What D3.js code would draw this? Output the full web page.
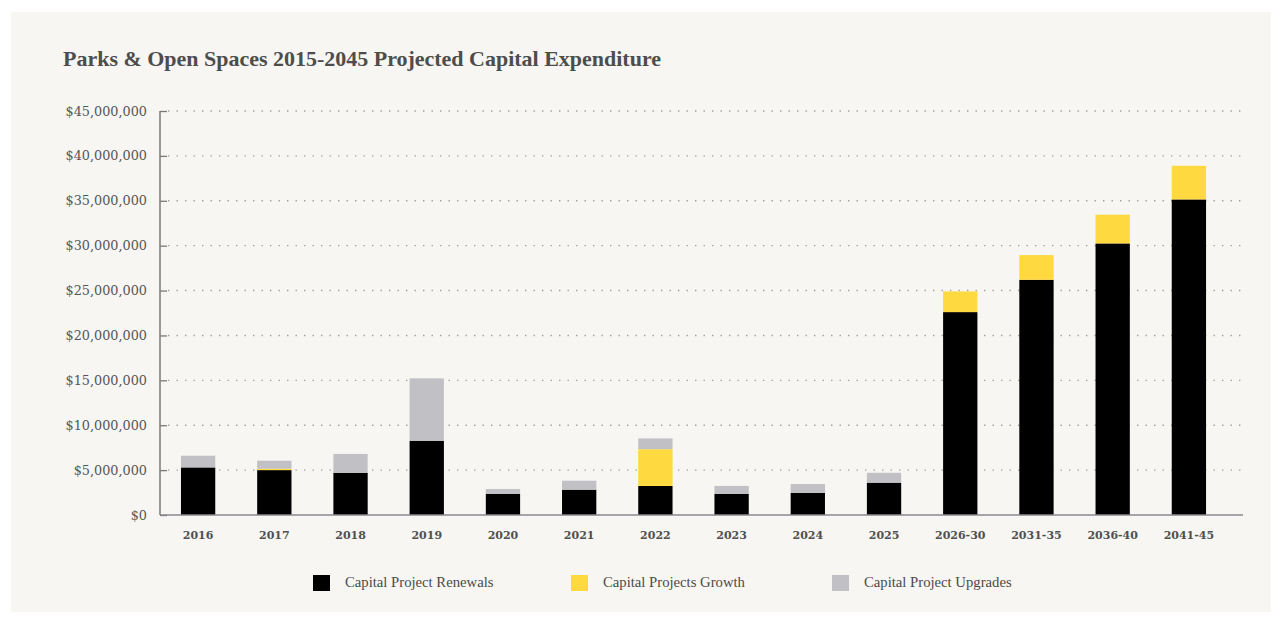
<!DOCTYPE html>
<html>
<head>
<meta charset="utf-8">
<script src="https://cdn.jsdelivr.net/npm/d3@7"></script>
<style>
  html, body { margin: 0; padding: 0; background: #ffffff; }
  svg { display: block; }
</style>
</head>
<body>
<svg id="chart" width="1282" height="620"></svg>
<script>
// Periods on the x axis
const categories = ["2016", "2017", "2018", "2019", "2020", "2021", "2022", "2023", "2024", "2025",
                    "2026-30", "2031-35", "2036-40", "2041-45"];

// Expenditure by component, in dollars
const renewals = [5300000, 5000000, 4700000, 8270000, 2340000, 2820000, 3230000, 2340000, 2450000, 3600000,
                  22600000, 26200000, 30250000, 35150000];
const growth   = [0, 150000, 0, 0, 0, 0, 4100000, 0, 0, 0,
                  2300000, 2750000, 3200000, 3750000];
const upgrades = [1300000, 900000, 2100000, 6950000, 550000, 1000000, 1200000, 900000, 1000000, 1100000,
                  0, 0, 0, 0];

const seriesNames = ["Capital Project Renewals", "Capital Projects Growth", "Capital Project Upgrades"];
const seriesColors = ["#000000", "#ffd93f", "#c1c0c5"];
const yTicks = [0, 5000000, 10000000, 15000000, 20000000, 25000000, 30000000, 35000000, 40000000, 45000000];

const svg = d3.select("#chart");

// Panel background
svg.append("rect").attr("x", 11).attr("y", 12).attr("width", 1260).attr("height", 600)
  .attr("fill", "#f7f6f2");

// Title
svg.append("text")
  .attr("x", 63).attr("y", 66)
  .attr("font-family", "Liberation Serif, serif")
  .attr("font-weight", "bold")
  .attr("font-size", 21)
  .attr("fill", "#4d4d4d")
  .attr("textLength", 598)
  .attr("lengthAdjust", "spacingAndGlyphs")
  .text("Parks & Open Spaces 2015-2045 Projected Capital Expenditure");

const axisLeft = 160, axisRight = 1243;
const y = d3.scaleLinear().domain([0, 45000000]).range([515, 111]);
const x = d3.scaleBand().domain(categories).range([160, 1227]).paddingInner(0.55).paddingOuter(0.275);

// Rows for stacking
const rows = categories.map((c, i) => ({
  cat: c, renewals: renewals[i], growth: growth[i], upgrades: upgrades[i]
}));
const keys = ["renewals", "growth", "upgrades"];
const stack = d3.stack().keys(keys)(rows);

// Dotted gridlines
const grid = svg.append("g");
grid.selectAll("line.grid").data(yTicks.filter(t => t > 0)).join("line")
  .attr("x1", axisLeft + 8).attr("x2", axisRight)
  .attr("y1", d => y(d)).attr("y2", d => y(d))
  .attr("stroke", "#a09f9c").attr("stroke-width", 1.4)
  .attr("stroke-dasharray", "1.4,7.1");

// Y axis
const yAxis = d3.axisLeft(y).tickValues(yTicks)
  .tickFormat(d => d === 0 ? "$0" : "$" + d3.format(",")(d))
  .tickSize(-7).tickPadding(13);
const gy = svg.append("g").attr("transform", `translate(${axisLeft},0)`).call(yAxis);
gy.select(".domain").remove();
gy.selectAll(".tick line").attr("stroke", "#7a7a7a").attr("stroke-width", 1.3);
gy.selectAll(".tick text")
  .attr("font-family", "DejaVu Serif, serif")
  .attr("font-size", 12.8)
  .attr("fill", "#555555");
svg.append("line").attr("x1", axisLeft).attr("x2", axisLeft).attr("y1", y(45000000)).attr("y2", y(0))
  .attr("stroke", "#7a7a7a").attr("stroke-width", 1.5);

// Bars
svg.append("g").selectAll("g").data(stack).join("g")
  .attr("fill", (d, i) => seriesColors[i])
  .selectAll("rect").data(d => d.filter(p => p[1] - p[0] > 0)).join("rect")
  .attr("x", d => x(d.data.cat))
  .attr("width", x.bandwidth())
  .attr("y", d => y(d[1]))
  .attr("height", d => y(d[0]) - y(d[1]));

// Baseline
svg.append("line").attr("x1", axisLeft).attr("x2", axisRight).attr("y1", y(0)).attr("y2", y(0))
  .attr("stroke", "#8a8a8e").attr("stroke-width", 1.6);

// X axis labels
const xAxis = d3.axisBottom(x).tickSize(0).tickPadding(16);
const gx = svg.append("g").attr("transform", `translate(0,${y(0)})`).call(xAxis);
gx.select(".domain").remove();
gx.selectAll(".tick text")
  .attr("font-family", "DejaVu Serif, serif")
  .attr("font-weight", "bold")
  .attr("font-size", 11)
  .attr("fill", "#505050");

// Legend
const legendX = [313, 571, 832];
const legend = svg.append("g").selectAll("g").data(seriesNames).join("g")
  .attr("transform", (d, i) => `translate(${legendX[i]},575)`);
legend.append("rect").attr("width", 17).attr("height", 16)
  .attr("fill", (d, i) => seriesColors[i]);
legend.append("text")
  .attr("x", 32).attr("y", 12)
  .attr("font-family", "Liberation Serif, serif")
  .attr("font-size", 14.7)
  .attr("fill", "#4a4a4a")
  .text(d => d);
</script>
</body>
</html>
